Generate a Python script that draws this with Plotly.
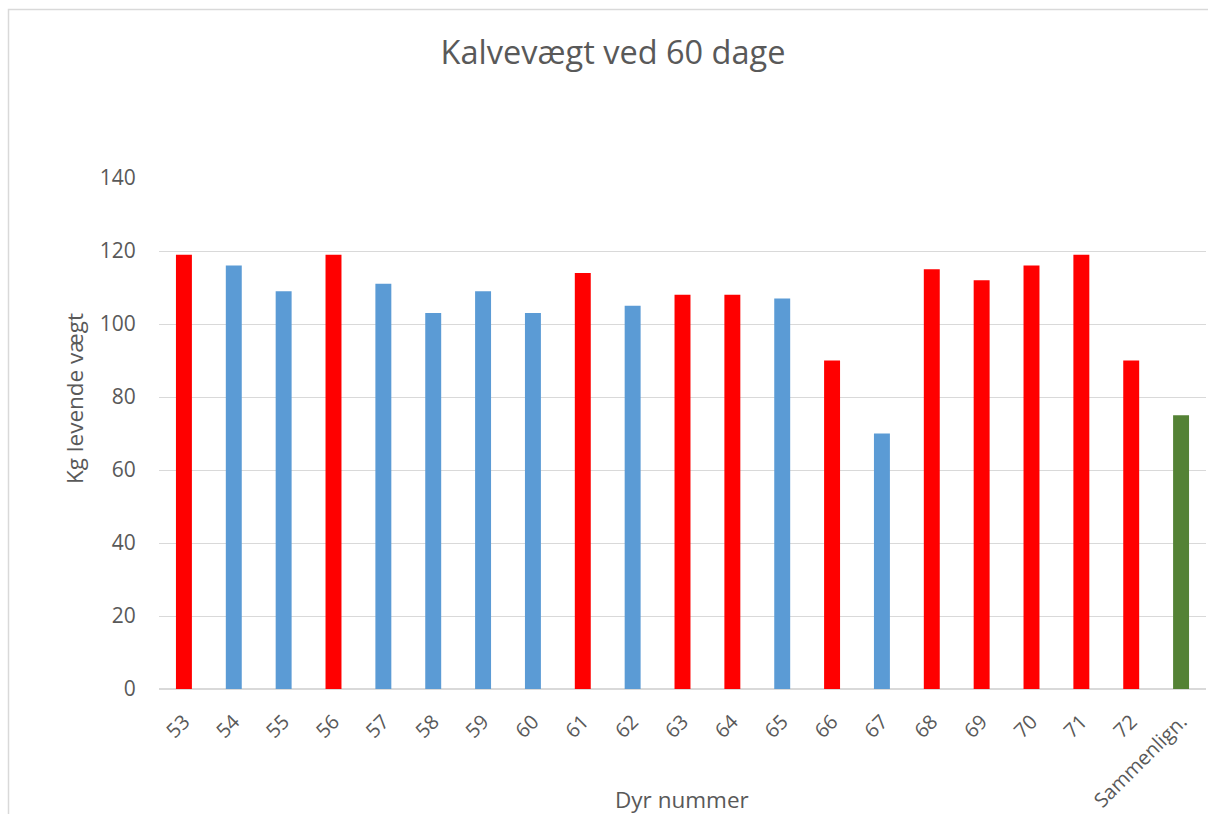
import plotly.graph_objects as go

categories = ["53", "54", "55", "56", "57", "58", "59", "60", "61", "62", "63",
              "64", "65", "66", "67", "68", "69", "70", "71", "72", "Sammenlign."]
values = [119, 116, 109, 119, 111, 103, 109, 103, 114, 105, 108,
          108, 107, 90, 70, 115, 112, 116, 119, 90, 75]
groups = ["r", "b", "b", "r", "b", "b", "b", "b", "r", "b", "r",
          "r", "b", "r", "b", "r", "r", "r", "r", "r", "g"]
color_map = {"r": "#FF0000", "b": "#5B9BD5", "g": "#548235"}
y_ticks = [0, 20, 40, 60, 80, 100, 120, 140]

W, H = 1208, 814
L, R, T, B = 159, 2, 178, 125
pw, ph = W - L - R, H - T - B

FONT = "Open Sans"
TXT = "#595959"

fig = go.Figure(go.Bar(
    x=categories, y=values,
    marker=dict(color=[color_map[g] for g in groups], line=dict(width=0)),
    width=0.32,
))


def px_x(p):
    return (p - L) / pw


def px_y(p):
    return (H - B - p) / ph


fig.update_layout(
    width=W, height=H,
    margin=dict(l=L, r=R, t=T, b=B, pad=0),
    paper_bgcolor="white", plot_bgcolor="white",
    showlegend=False,
    font=dict(family=FONT, color=TXT),
    title=dict(text="Kalvevægt ved 60 dage", xref="container", x=613 / W,
               xanchor="center", yref="container", y=1 - 53 / H, yanchor="middle",
               font=dict(size=32.5, color=TXT, family=FONT)),
    xaxis=dict(type="category", tickangle=-45, tickfont=dict(size=20, color=TXT),
               showgrid=False, showline=False, zeroline=False,
               ticks="outside", ticklen=12, tickcolor="rgba(0,0,0,0)"),
    yaxis=dict(range=[0, 140], tickvals=y_ticks, tickfont=dict(size=21, color=TXT),
               showgrid=True, gridcolor="#D9D9D9", gridwidth=1.3,
               zeroline=True, zerolinecolor="#D9D9D9", zerolinewidth=2,
               showline=False, ticks="outside", ticklen=18, tickcolor="rgba(0,0,0,0)"),
    shapes=[dict(type="rect", xref="paper", yref="paper",
                 x0=px_x(8.5), x1=px_x(1230), y0=px_y(900), y1=px_y(9.5),
                 line=dict(color="#D9D9D9", width=1.5), layer="below")],
    annotations=[
        dict(text="Dyr nummer", xref="paper", yref="paper", x=px_x(682), y=px_y(799),
             xanchor="center", yanchor="middle", showarrow=False,
             font=dict(size=22.5, color=TXT, family=FONT)),
        dict(text="Kg levende vægt", xref="paper", yref="paper", x=px_x(74), y=px_y(399),
             xanchor="center", yanchor="middle", showarrow=False, textangle=-90,
             font=dict(size=22.5, color=TXT, family=FONT)),
    ],
)

fig.write_html(
    "out.html",
    config={"displayModeBar": False},
    post_script="document.body.style.margin='0';document.body.style.overflow='hidden';",
)
